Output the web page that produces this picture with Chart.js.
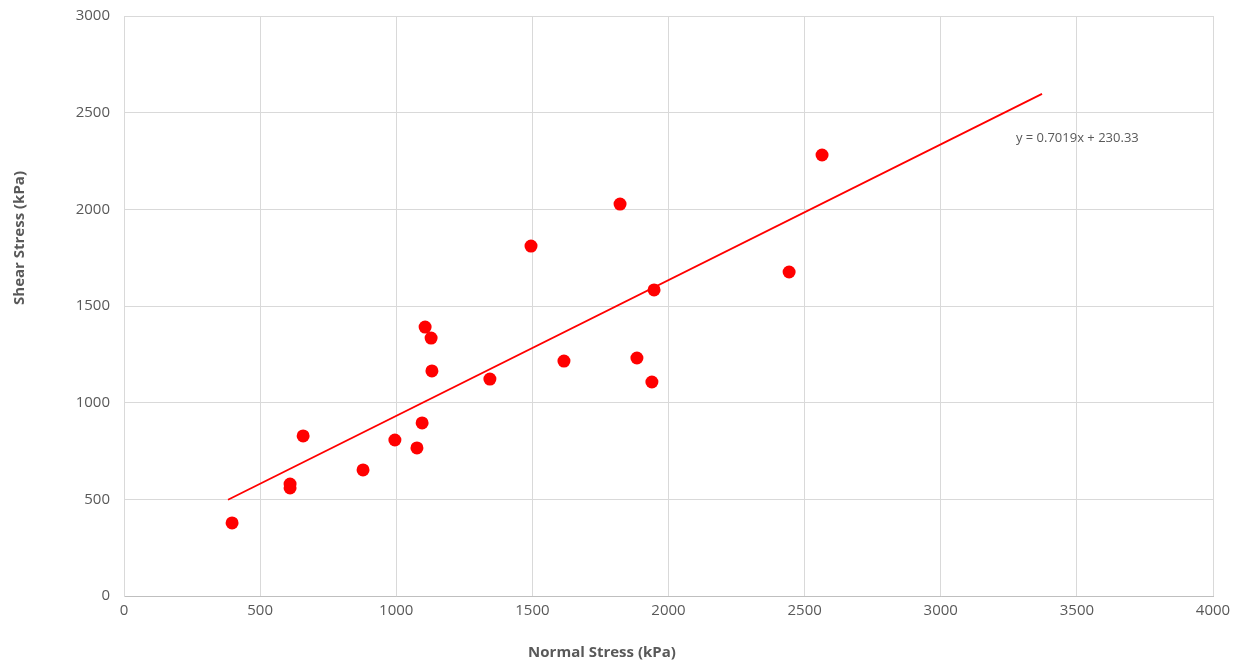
<!DOCTYPE html>
<html>
<head>
<meta charset="utf-8">
<script src="https://cdn.jsdelivr.net/npm/chart.js@4"></script>
<style>
  html, body { margin: 0; padding: 0; background: #fff; }
  #wrap { width: 1239px; height: 663px; position: relative; }
</style>
</head>
<body>
<div id="wrap"><canvas id="chartEsfuerzo"></canvas></div>
<script>
// datos
const normalStress = [397, 610, 610, 658, 878, 995, 1076, 1095, 1106, 1128, 1131, 1344, 1495, 1616, 1822, 1884, 1939, 1947, 2443, 2564];
const shearStress  = [378, 579, 559, 828, 652, 807, 766, 895, 1391, 1334, 1164, 1122, 1810, 1215, 2027, 1231, 1107, 1583, 1676, 2281];

const trendX = [382, 3372];
const trendY = [498, 2597];
const trendLabel = 'y = 0.7019x + 230.33';
const labelPos = [3276, 2369];

const xTitulo = 'Normal Stress (kPa)';
const yTitulo = 'Shear Stress (kPa)';

const fuente = "'Open Sans', 'Liberation Sans', sans-serif";
const gris = '#595959';

const puntos = normalStress.map((x, i) => ({ x: x, y: shearStress[i] }));
const tendencia = trendX.map((x, i) => ({ x: x, y: trendY[i] }));

// ecuacion de la tendencia y titulos de ejes (Excel no los centra en el area)
const textosExtra = {
    id: 'textosExtra',
    afterDatasetsDraw(chart) {
        const ctx = chart.ctx;
        const px = chart.scales.x.getPixelForValue(labelPos[0]);
        const py = chart.scales.y.getPixelForValue(labelPos[1]);
        ctx.save();
        ctx.font = `13px ${fuente}`;
        ctx.fillStyle = gris;
        ctx.textAlign = 'left';
        ctx.textBaseline = 'middle';
        ctx.fillText(trendLabel, px, py);

        ctx.font = `bold 15px ${fuente}`;
        ctx.textAlign = 'center';
        ctx.fillText(xTitulo, 602, 653);

        ctx.translate(20, 238);
        ctx.rotate(-Math.PI / 2);
        ctx.fillText(yTitulo, 0, 0);
        ctx.restore();
    }
};

const canvas = document.getElementById('chartEsfuerzo');
const context = canvas.getContext('2d');

const chartEsfuerzo = new Chart(context, {
    type: 'scatter',
    data: {
        datasets: [
            {
                label: 'Datos',
                data: puntos,
                backgroundColor: '#ff0000',
                borderColor: '#ff0000',
                pointRadius: 6.5,
                pointHoverRadius: 6.5,
                borderWidth: 0
            },
            {
                type: 'line',
                label: 'Tendencia',
                data: tendencia,
                borderColor: '#ff0000',
                borderWidth: 1.8,
                pointRadius: 0,
                fill: false
            }
        ]
    },
    options: {
        responsive: true,
        maintainAspectRatio: false,
        animation: false,
        layout: {
            padding: { top: 16, right: 26, bottom: 0, left: 0 }
        },
        plugins: {
            legend: { display: false },
            tooltip: { enabled: false }
        },
        scales: {
            x: {
                type: 'linear',
                min: 0,
                max: 4000,
                ticks: {
                    stepSize: 500,
                    color: gris,
                    font: { family: fuente, size: 15 },
                    padding: 6,
                    callback: v => String(v)
                },
                grid: { color: '#d9d9d9', lineWidth: 1, drawTicks: false },
                border: { color: '#bfbfbf' },
                afterFit(scale) {
                    scale.height = 67;
                    scale.paddingLeft = 0;
                    scale.paddingRight = 0;
                }
            },
            y: {
                type: 'linear',
                min: 0,
                max: 3000,
                ticks: {
                    stepSize: 500,
                    color: gris,
                    font: { family: fuente, size: 15 },
                    padding: 14,
                    callback: v => String(v)
                },
                grid: { color: '#d9d9d9', lineWidth: 1, drawTicks: false },
                border: { color: '#d9d9d9' },
                afterFit(scale) {
                    scale.width = 124;
                    scale.paddingTop = 0;
                    scale.paddingBottom = 0;
                }
            }
        }
    },
    plugins: [textosExtra]
});
</script>
</body>
</html>
